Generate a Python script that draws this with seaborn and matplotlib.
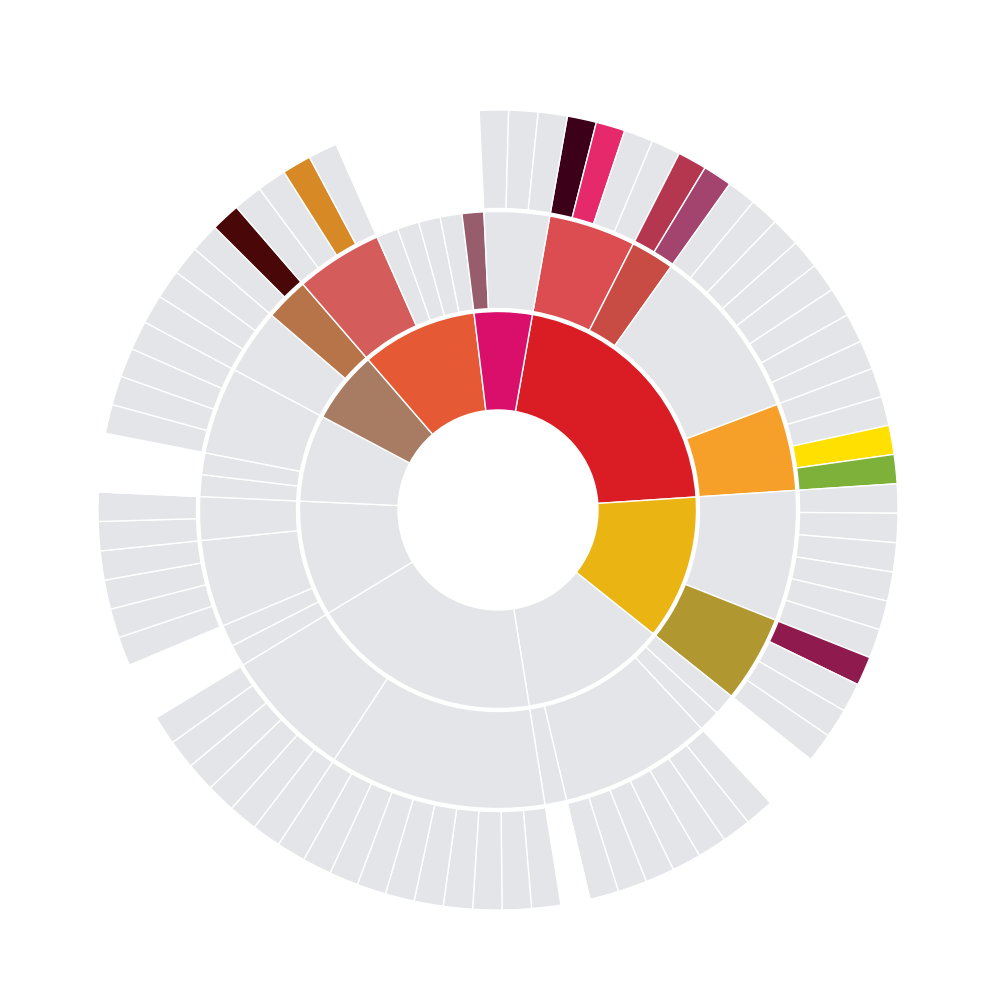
import matplotlib
matplotlib.use("Agg")
import matplotlib.pyplot as plt
import seaborn as sns

sns.set_theme(style="white")

GREY = "#e3e5e9"

# ring 1: top-level groups, clockwise starting from the big red one
inner_colors = ["#da1c24", "#eab412", GREY, GREY, GREY, GREY, "#a87b63", "#e55a35", "#d90f6b"]

# ring 2: children of each group (value = leaf units)
mid_values = [[4, 2, 8, 4], [6, 4], [1, 1, 7, 1], [10, 6], [1, 1, 4, 2],
              [1, 1, 4], [3, 2], [4, 1, 1, 1, 1], [1, 3]]
mid_colors = [["#dc4d51", "#c84b44", GREY, "#f6a02a"],
              [GREY, "#b0972f"],
              [GREY, GREY, GREY, GREY],
              [GREY, GREY],
              [GREY, GREY, GREY, GREY],
              [GREY, GREY, GREY],
              [GREY, "#b87449"],
              ["#d45c5a", GREY, GREY, GREY, GREY],
              ["#975d6d", GREY]]

# ring 3: leaves of each ring-2 node (empty list = no leaves shown)
outer_leaves = [
    [["#3d0019", "#e5296b", GREY, GREY], ["#b5374f", "#a3446f"], [GREY] * 8,
     [GREY, GREY, "#ffe000", "#7db13a"]],
    [[GREY] * 6, ["#8f1a4e", GREY, GREY, GREY]],
    [[], [], [GREY] * 7, []],
    [[GREY] * 10, [GREY] * 6],
    [[], [], [GREY] * 4, [GREY] * 2],
    [[], [], [GREY] * 4],
    [[GREY] * 3, [GREY, "#4a0707"]],
    [[GREY, GREY, "#d68925", GREY], [], [], [], []],
    [[], [GREY] * 3],
]

START = 80  # first segment begins 10 degrees right of 12 o'clock

# flatten the hierarchy into values per ring
inner_values = [sum(v) for v in mid_values]
mid_flat_v, mid_flat_c, out_v, out_c = [], [], [], []
for g, vals in enumerate(mid_values):
    for k, v in enumerate(vals):
        mid_flat_v.append(v)
        mid_flat_c.append(mid_colors[g][k])
        leaves = outer_leaves[g][k]
        if leaves:
            out_v += [1] * len(leaves)
            out_c += leaves
        else:
            out_v.append(v)
            out_c.append("none")

fig = plt.figure(figsize=(10, 10), dpi=100)
ax = fig.add_axes([0, 0, 1, 1])

edge = dict(edgecolor="white", linewidth=1.0)
ax.pie(inner_values, radius=198.5, colors=inner_colors, startangle=START,
       counterclock=False, wedgeprops=dict(width=98.5, **edge))
ax.pie(mid_flat_v, radius=298.5, colors=mid_flat_c, startangle=START,
       counterclock=False, wedgeprops=dict(width=97, **edge))
ax.pie(out_v, radius=400, colors=out_c, startangle=START,
       counterclock=False, wedgeprops=dict(width=98.5, **edge))

ax.set_xlim(-498, 502)
ax.set_ylim(-490, 510)
ax.set_aspect("equal")
ax.axis("off")

fig.savefig("out.png", dpi=100, facecolor="white")
